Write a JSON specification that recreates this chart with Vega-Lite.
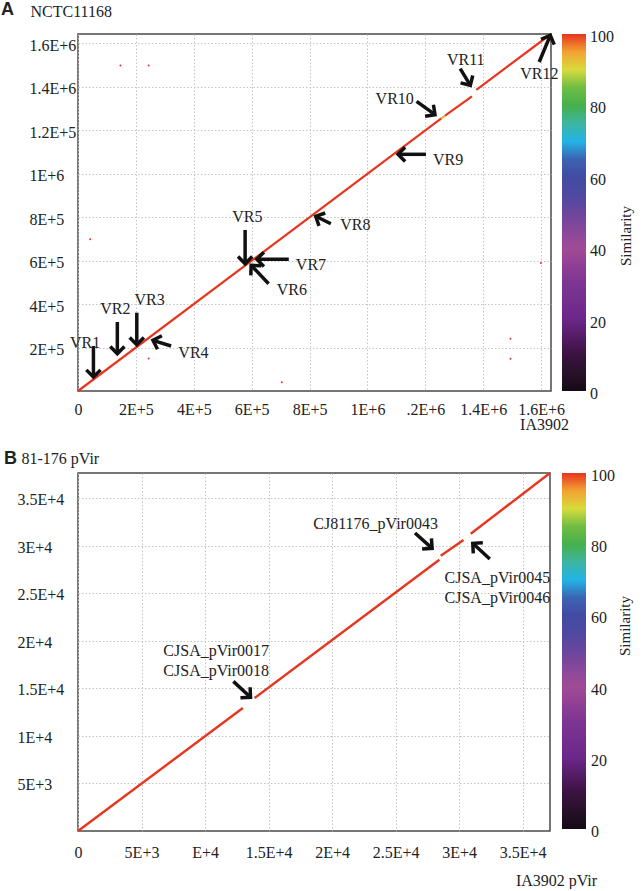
{
  "$schema": "https://vega.github.io/schema/vega-lite/v6.json",
  "padding": {"left": 0, "top": 0, "right": 0, "bottom": 0},
  "background": "white",
  "columns": 1,
  "align": "none",
  "spacing": 16,
  "resolve": {"scale": {"color": "independent"}, "legend": {"color": "independent"}},
  "datasets": {
    "segA": [
      {"x": 0, "y": 0, "x2": 1255000, "y2": 1253000, "sim": 100},
      {"x": 1255000, "y": 1253000, "x2": 1268000, "y2": 1266000, "sim": 93},
      {"x": 1268000, "y": 1266000, "x2": 1361000, "y2": 1355000, "sim": 100},
      {"x": 1376000, "y": 1385000, "x2": 1634000, "y2": 1641500, "sim": 100}
    ],
    "dotsA": [
      {"x": 146600, "y": 1497000},
      {"x": 244000, "y": 1497000},
      {"x": 42000, "y": 698000},
      {"x": 704000, "y": 40000},
      {"x": 244000, "y": 149000},
      {"x": 1494000, "y": 240000},
      {"x": 1494000, "y": 148000},
      {"x": 1599000, "y": 588000}
    ],
    "arrowsA": [
      {"x": 53300, "y": 206900, "x2": 53300, "y2": 64400, "dir": 180},
      {"x": 135900, "y": 317300, "x2": 135900, "y2": 171500, "dir": 180},
      {"x": 203100, "y": 360000, "x2": 203100, "y2": 212900, "dir": 180},
      {"x": 321600, "y": 206900, "x2": 258900, "y2": 233100, "dir": 288},
      {"x": 577300, "y": 740300, "x2": 577300, "y2": 585300, "dir": 180},
      {"x": 658500, "y": 493400, "x2": 598200, "y2": 578000, "dir": 317},
      {"x": 728200, "y": 605600, "x2": 617700, "y2": 605600, "dir": 270},
      {"x": 873400, "y": 769200, "x2": 821200, "y2": 803300, "dir": 296},
      {"x": 1202000, "y": 1088300, "x2": 1105500, "y2": 1088300, "dir": 270},
      {"x": 1169600, "y": 1332000, "x2": 1233300, "y2": 1270400, "dir": 126},
      {"x": 1320400, "y": 1481900, "x2": 1355300, "y2": 1405600, "dir": 149},
      {"x": 1593200, "y": 1512700, "x2": 1631600, "y2": 1635500, "dir": 22}
    ],
    "labelsA": [
      {"x": 24400, "y": 222100, "label": "VR1"},
      {"x": 128900, "y": 377000, "label": "VR2"},
      {"x": 247400, "y": 418400, "label": "VR3"},
      {"x": 398900, "y": 176100, "label": "VR4"},
      {"x": 585300, "y": 800100, "label": "VR5"},
      {"x": 738600, "y": 463000, "label": "VR6"},
      {"x": 804800, "y": 578000, "label": "VR7"},
      {"x": 958100, "y": 761900, "label": "VR8"},
      {"x": 1278600, "y": 1060800, "label": "VR9"},
      {"x": 1094000, "y": 1344000, "label": "VR10"},
      {"x": 1339600, "y": 1520600, "label": "VR11"},
      {"x": 1593900, "y": 1458900, "label": "VR12"}
    ],
    "segB": [
      {"x": 0, "y": 0, "x2": 12980, "y2": 12930, "sim": 100},
      {"x": 13900, "y": 13980, "x2": 28450, "y2": 28520, "sim": 100},
      {"x": 28560, "y": 28940, "x2": 30350, "y2": 30590, "sim": 100},
      {"x": 30920, "y": 31250, "x2": 37160, "y2": 37630, "sim": 100}
    ],
    "dotsB": [
      {"x": 18830, "y": 31850}
    ],
    "arrowsB": [
      {"x": 26530, "y": 31320, "x2": 27880, "y2": 29710, "dir": 131},
      {"x": 32420, "y": 28590, "x2": 31080, "y2": 30240, "dir": 312},
      {"x": 12230, "y": 15730, "x2": 13580, "y2": 14050, "dir": 133}
    ],
    "labelsB": [
      {"x": 23430, "y": 32270, "label": "CJ81176_pVir0043"},
      {"x": 33020, "y": 26590, "label": "CJSA_pVir0045"},
      {"x": 33020, "y": 24490, "label": "CJSA_pVir0046"},
      {"x": 10880, "y": 18950, "label": "CJSA_pVir0017"},
      {"x": 10880, "y": 16850, "label": "CJSA_pVir0018"}
    ]
  },
  "concat": [
    {
      "width": 473,
      "height": 357,
      "title": {"text": "A", "anchor": "start", "frame": "group", "dx": -77, "offset": -16, "font": "Liberation Sans", "fontWeight": "bold", "fontSize": 18, "color": "#222"},
      "layer": [
        {
          "data": {"name": "segA"},
          "mark": {"type": "rule", "strokeWidth": 2.2},
          "encoding": {
            "x": {"field": "x", "type": "quantitative",
              "scale": {"domain": [0, 1634000], "nice": false, "zero": false},
              "axis": {"values": [0, 200000, 400000, 600000, 800000, 1000000, 1200000, 1400000, 1600000],
                "labelExpr": "['0','2E+5','4E+5','6E+5','8E+5','1E+6','.2E+6','1.4E+6','1.6E+6'][round(datum.value/200000)]",
                "labelPadding": 10, "labelOverlap": false, "labelFlush": false,
                "title": "IA3902", "titleX": 466, "titleY": 33, "titleAlign": "center", "titleBaseline": "middle",
                "encode": {"labels": {"update": {"dx": {"signal": "[9,-10,-10.3,-1.7,1.4,11,3.6,3.7,3.3][round(datum.value/200000)]"}}}}}},
            "y": {"field": "y", "type": "quantitative",
              "scale": {"domain": [0, 1641500], "nice": false, "zero": false},
              "axis": {"values": [200000, 400000, 600000, 800000, 1000000, 1200000, 1400000, 1600000],
                "labelExpr": "['0','2E+5','4E+5','6E+5','8E+5','1E+6','1.2E+5','1.4E+6','1.6E+6'][round(datum.value/200000)]",
                "labelAlign": "left", "labelPadding": 49, "labelOffset": 2, "labelOverlap": false, "labelFlush": false,
                "title": "NCTC11168", "titleAngle": 0, "titleAlign": "left", "titleBaseline": "middle", "titleX": -48, "titleY": -23}},
            "x2": {"field": "x2"},
            "y2": {"field": "y2"},
            "color": {"field": "sim", "type": "quantitative",
              "scale": {"domain": [0, 10, 20, 30, 40, 50, 55, 62, 66, 70, 75, 80, 86, 90, 95, 100],
                "range": ["#140a14", "#3a1240", "#6b2789", "#7c3592", "#a04b96", "#6a469c", "#4f49a1", "#3b4ca2", "#3e6cb8", "#22b4e6", "#3db5a0", "#46b04c", "#78bf42", "#d8db3c", "#f2a232", "#e8351f"]},
              "legend": {"type": "gradient", "direction": "vertical", "title": "Similarity", "gradientLength": 357, "gradientThickness": 24, "offset": 11, "padding": 0,
                "labelFont": "Liberation Serif", "labelFontSize": 16, "labelColor": "#222", "labelOffset": 4,
                "titleOrient": "right", "titleAnchor": "middle", "titleFont": "Liberation Serif", "titleFontSize": 15, "titleFontWeight": "normal", "titleColor": "#222", "titlePadding": 10, "gradientStrokeWidth": 0,
                "encode": {
                  "title": {"update": {"angle": {"value": -90}, "baseline": {"value": "top"}, "dy": {"value": -5}, "dx": {"value": -23}}},
                  "labels": {"update": {"baseline": {"value": "middle"}, "dy": {"value": 3}}}
                }}}
          }
        },
        {
          "data": {"name": "dotsA"},
          "mark": {"type": "point", "filled": true, "size": 4, "opacity": 1, "strokeWidth": 0, "color": "#e8351f"},
          "encoding": {
            "x": {"field": "x", "type": "quantitative"},
            "y": {"field": "y", "type": "quantitative"}
          }
        },
        {
          "data": {"name": "arrowsA"},
          "mark": {"type": "rule", "strokeWidth": 3.5, "color": "#111", "strokeCap": "butt"},
          "encoding": {
            "x": {"field": "x", "type": "quantitative"},
            "y": {"field": "y", "type": "quantitative"},
            "x2": {"field": "x2"},
            "y2": {"field": "y2"}
          }
        },
        {
          "data": {"name": "arrowsA"},
          "mark": {"type": "point", "shape": "M-0.75,0.75L0,0L0.75,0.75", "filled": false, "stroke": "#111", "strokeWidth": 3.5, "strokeJoin": "miter", "size": 360, "opacity": 1},
          "encoding": {
            "x": {"field": "x2", "type": "quantitative"},
            "y": {"field": "y2", "type": "quantitative"},
            "angle": {"field": "dir", "type": "quantitative", "scale": null}
          }
        },
        {
          "data": {"name": "labelsA"},
          "mark": {"type": "text", "font": "Liberation Serif", "fontSize": 16, "color": "#222", "align": "center", "baseline": "middle"},
          "encoding": {
            "x": {"field": "x", "type": "quantitative"},
            "y": {"field": "y", "type": "quantitative"},
            "text": {"field": "label"}
          }
        }
      ]
    },
    {
      "width": 472,
      "height": 358,
      "title": {"text": "B", "anchor": "start", "frame": "group", "dx": -74, "offset": -18, "font": "Liberation Sans", "fontWeight": "bold", "fontSize": 18, "color": "#222"},
      "layer": [
        {
          "data": {"name": "segB"},
          "mark": {"type": "rule", "strokeWidth": 2.4},
          "encoding": {
            "x": {"field": "x", "type": "quantitative",
              "scale": {"domain": [0, 37160], "nice": false, "zero": false},
              "axis": {"values": [0, 5000, 10000, 15000, 20000, 25000, 30000, 35000],
                "labelExpr": "['0','5E+3','E+4','1.5E+4','2E+4','2.5E+4','3E+4','3.5E+4'][round(datum.value/5000)]",
                "labelPadding": 13, "labelOverlap": false, "labelFlush": false,
                "title": "IA3902 pVir", "titleX": 478, "titleY": 49, "titleAlign": "center", "titleBaseline": "middle",
                "encode": {"labels": {"update": {"dx": {"signal": "[7,-9.5,-9,-13.5,-9,-8.5,-8,-7.6][round(datum.value/5000)]"}}}}}},
            "y": {"field": "y", "type": "quantitative",
              "scale": {"domain": [0, 37630], "nice": false, "zero": false},
              "axis": {"values": [5000, 10000, 15000, 20000, 25000, 30000, 35000],
                "labelExpr": "['0','5E+3','1E+4','1.5E+4','2E+4','2.5E+4','3E+4','3.5E+4'][round(datum.value/5000)]",
                "labelAlign": "left", "labelPadding": 61, "labelOffset": 1.5, "labelOverlap": false, "labelFlush": false,
                "title": "81-176 pVir", "titleAngle": 0, "titleAlign": "left", "titleBaseline": "middle", "titleX": -57, "titleY": -15}},
            "x2": {"field": "x2"},
            "y2": {"field": "y2"},
            "color": {"field": "sim", "type": "quantitative",
              "scale": {"domain": [0, 10, 20, 30, 40, 50, 55, 62, 66, 70, 75, 80, 86, 90, 95, 100],
                "range": ["#140a14", "#3a1240", "#6b2789", "#7c3592", "#a04b96", "#6a469c", "#4f49a1", "#3b4ca2", "#3e6cb8", "#22b4e6", "#3db5a0", "#46b04c", "#78bf42", "#d8db3c", "#f2a232", "#e8351f"]},
              "legend": {"type": "gradient", "direction": "vertical", "title": "Similarity", "gradientLength": 356, "gradientThickness": 24, "offset": 12, "padding": 0,
                "labelFont": "Liberation Serif", "labelFontSize": 16, "labelColor": "#222", "labelOffset": 5,
                "titleOrient": "right", "titleAnchor": "middle", "titleFont": "Liberation Serif", "titleFontSize": 15, "titleFontWeight": "normal", "titleColor": "#222", "titlePadding": 10, "gradientStrokeWidth": 0,
                "encode": {
                  "title": {"update": {"angle": {"value": -90}, "baseline": {"value": "top"}, "dy": {"value": -7}, "dx": {"value": 25}}},
                  "labels": {"update": {"baseline": {"value": "middle"}, "dy": {"value": 3}}}
                }}}
          }
        },
        {
          "data": {"name": "dotsB"},
          "mark": {"type": "point", "filled": true, "size": 6, "opacity": 1, "strokeWidth": 0, "color": "#e8351f"},
          "encoding": {
            "x": {"field": "x", "type": "quantitative"},
            "y": {"field": "y", "type": "quantitative"}
          }
        },
        {
          "data": {"name": "arrowsB"},
          "mark": {"type": "rule", "strokeWidth": 3.5, "color": "#111", "strokeCap": "butt"},
          "encoding": {
            "x": {"field": "x", "type": "quantitative"},
            "y": {"field": "y", "type": "quantitative"},
            "x2": {"field": "x2"},
            "y2": {"field": "y2"}
          }
        },
        {
          "data": {"name": "arrowsB"},
          "mark": {"type": "point", "shape": "M-0.75,0.75L0,0L0.75,0.75", "filled": false, "stroke": "#111", "strokeWidth": 3.5, "strokeJoin": "miter", "size": 360, "opacity": 1},
          "encoding": {
            "x": {"field": "x2", "type": "quantitative"},
            "y": {"field": "y2", "type": "quantitative"},
            "angle": {"field": "dir", "type": "quantitative", "scale": null}
          }
        },
        {
          "data": {"name": "labelsB"},
          "mark": {"type": "text", "font": "Liberation Serif", "fontSize": 16, "color": "#222", "align": "center", "baseline": "middle"},
          "encoding": {
            "x": {"field": "x", "type": "quantitative"},
            "y": {"field": "y", "type": "quantitative"},
            "text": {"field": "label"}
          }
        }
      ]
    }
  ],
  "config": {
    "font": "Liberation Serif",
    "view": {"stroke": "#4a4a4a", "strokeWidth": 1.5},
    "axis": {"grid": true, "gridColor": "#bdbdbd", "gridDash": [1.5, 2], "gridWidth": 0.9, "domain": false, "ticks": false, "tickSize": 0,
      "labelFont": "Liberation Serif", "labelFontSize": 16, "labelColor": "#222",
      "titleFont": "Liberation Serif", "titleFontSize": 16, "titleFontWeight": "normal", "titleColor": "#222"}
  }
}
